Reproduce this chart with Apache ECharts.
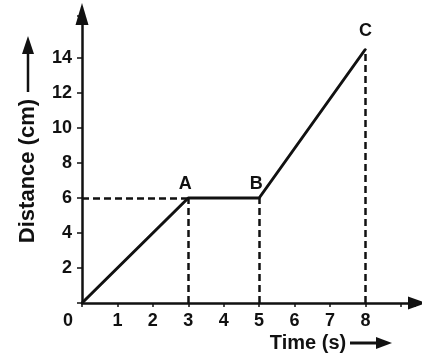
<!DOCTYPE html>
<html><head><meta charset="utf-8">
<script src="https://cdn.jsdelivr.net/npm/echarts@6/dist/echarts.min.js"></script>
<style>html,body{margin:0;padding:0;background:#fff}#c{width:422px;height:361px}</style>
</head><body><div id="c"></div>
<script>
// Data
const timeS = [0, 3, 5, 8];
const distanceCm = [0, 6, 6, 14.5];
const pointLabels = ['', 'A', 'B', 'C'];
const xTicks = [0, 1, 2, 3, 4, 5, 6, 7, 8];
const yTicks = [2, 4, 6, 8, 10, 12, 14];
const xTitle = 'Time (s)';
const yTitle = 'Distance (cm)';

const chart = echarts.init(document.getElementById('c'));
const FONT = '"Liberation Sans", Arial, sans-serif';
const ink = '#111';

const pointData = timeS.map((t, i) => ({
  value: [t, distanceCm[i]],
  label: { show: pointLabels[i] !== '', formatter: pointLabels[i], position: 'top', distance: i === 3 ? 8 : 4, offset: [i === 3 ? 0 : -3, 0] }
}));
const guides = [];
guides.push([[0, distanceCm[1]], [timeS[1], distanceCm[1]]]);
for (let i = 1; i < timeS.length; i++) guides.push([[timeS[i], 0], [timeS[i], distanceCm[i]]]);

chart.setOption({
  backgroundColor: '#fff',
  animation: false,
  grid: { left: 82, top: 16, right: 7, bottom: 58 },
  xAxis: {
    type: 'value', min: 0, max: 9.4, interval: 1,
    axisLine: { lineStyle: { color: ink, width: 2.5 }, symbol: ['none', 'triangle'], symbolSize: [13, 18], symbolOffset: [0, 2] },
    axisTick: { show: true, length: 4, lineStyle: { color: ink, width: 1.5 } },
    splitLine: { show: false },
    axisLabel: {
      margin: 9, color: ink, fontFamily: FONT, fontSize: 18, fontWeight: 'bold',
      formatter: v => xTicks.includes(v) ? (v === 0 ? '{z|0}' : String(v)) : '',
      rich: { z: { padding: [0, 28, 0, 0], fontSize: 18, fontWeight: 'bold', fontFamily: FONT, color: ink } }
    }
  },
  yAxis: {
    type: 'value', min: 0, max: 16.4, interval: 2,
    axisLine: { lineStyle: { color: ink, width: 2.5 }, symbol: ['none', 'triangle'], symbolSize: [13, 22], symbolOffset: [0, 2] },
    axisTick: { show: true, length: 5, lineStyle: { color: ink, width: 1.5 } },
    splitLine: { show: false },
    axisLabel: {
      margin: 10, color: ink, fontFamily: FONT, fontSize: 18, fontWeight: 'bold',
      formatter: v => yTicks.includes(v) ? String(v) : ''
    }
  },
  series: [
    {
      type: 'lines', coordinateSystem: 'cartesian2d', silent: true,
      lineStyle: { color: ink, width: 2.5, type: [7, 4], opacity: 1 },
      data: guides.map(c => ({ coords: c })), z: 1
    },
    {
      type: 'line', data: timeS.map((t, i) => [t, distanceCm[i]]), symbol: 'none', z: 3,
      lineStyle: { color: ink, width: 3 }
    },
    {
      type: 'scatter', data: pointData, symbolSize: 2, z: 4, silent: true,
      itemStyle: { color: ink, opacity: 1 },
      label: { show: true, color: ink, opacity: 1, textBorderWidth: 0, fontFamily: FONT, fontSize: 18, fontWeight: 'bold' }
    }
  ],
  graphic: [
    { type: 'text', x: 308, y: 343, style: { text: xTitle, fill: ink, font: 'bold 20px ' + FONT, textAlign: 'center', textVerticalAlign: 'middle' } },
    { type: 'line', shape: { x1: 350, y1: 343, x2: 380, y2: 343 }, style: { stroke: ink, lineWidth: 3 } },
    { type: 'polygon', shape: { points: [[392, 343], [376, 337], [376, 349]] }, style: { fill: ink } },
    { type: 'text', x: 28, y: 171, rotation: Math.PI / 2, style: { text: yTitle, fill: ink, font: 'bold 22px ' + FONT, textAlign: 'center', textVerticalAlign: 'middle' } },
    { type: 'line', shape: { x1: 28, y1: 92, x2: 28, y2: 52 }, style: { stroke: ink, lineWidth: 2.5 } },
    { type: 'polygon', shape: { points: [[28, 36], [22, 54], [34, 54]] }, style: { fill: ink } }
  ]
});
</script></body></html>
